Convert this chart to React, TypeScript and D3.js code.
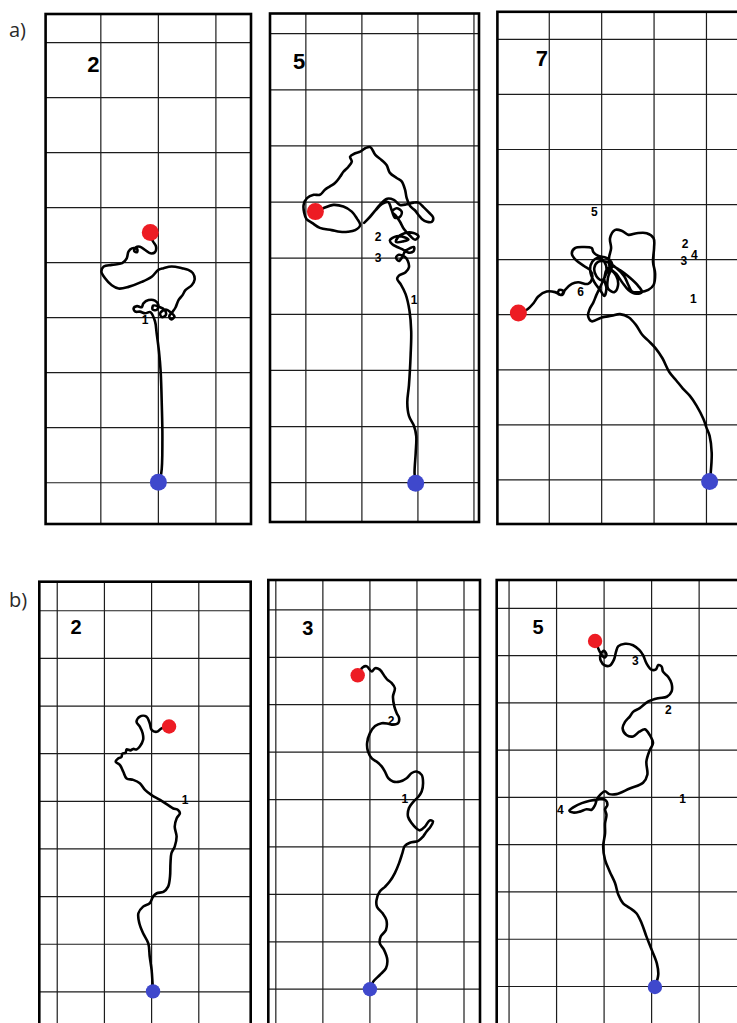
import React from 'react';
import * as d3 from 'd3';

type Pt = [number, number];
type Lbl = { t: string; x: number; y: number };

// Trajectories in grid-cell units (x right, y up), from start (blue) to end (red)
const trackA1: Pt[] = [
  [0.00,0.01],[0.05,0.17],[0.07,0.79],[0.06,1.40],[0.04,2.02],[0.01,2.39],[-0.03,2.72],[-0.06,2.94],
  [-0.14,3.10],[-0.23,3.08],[-0.32,3.11],[-0.40,3.11],[-0.43,3.17],[-0.37,3.21],[-0.29,3.19],[-0.26,3.26],
  [-0.17,3.32],[-0.06,3.31],[0.00,3.23],[-0.03,3.14],[-0.10,3.15],[-0.09,3.22],[0.01,3.20],[0.11,3.14],
  [0.13,3.05],[0.06,3.01],[0.03,3.08],[0.13,3.15],[0.22,3.09],[0.28,3.02],[0.22,2.97],[0.19,3.03],
  [0.25,3.11],[0.30,3.19],[0.35,3.32],[0.42,3.41],[0.47,3.50],[0.58,3.59],[0.63,3.69],[0.60,3.81],
  [0.52,3.87],[0.41,3.90],[0.23,3.93],[0.09,3.90],[0.00,3.87],[-0.11,3.75],[-0.29,3.65],[-0.52,3.56],
  [-0.69,3.53],[-0.81,3.59],[-0.93,3.72],[-0.99,3.84],[-0.95,3.93],[-0.81,3.96],[-0.63,3.99],[-0.55,4.08],
  [-0.52,4.20],[-0.46,4.26],[-0.37,4.25],[-0.37,4.19],[-0.42,4.21],[-0.39,4.28],[-0.32,4.29],[-0.23,4.23],
  [-0.14,4.17],[-0.06,4.19],[-0.04,4.29],[-0.09,4.38],[-0.13,4.47],[-0.14,4.55],
];

const trackA2: Pt[] = [
  [-0.04,-0.01],[-0.06,0.17],[-0.04,0.53],[-0.03,0.83],[-0.07,1.01],[-0.16,1.19],[-0.19,1.43],[-0.16,1.74],
  [-0.13,2.28],[-0.12,2.70],[-0.15,3.06],[-0.22,3.36],[-0.31,3.54],[-0.37,3.63],[-0.34,3.69],[-0.22,3.75],
  [-0.16,3.84],[-0.18,3.95],[-0.23,4.02],[-0.34,4.06],[-0.39,4.01],[-0.34,3.95],[-0.28,4.02],[-0.23,4.12],
  [-0.14,4.18],[-0.07,4.20],[-0.08,4.12],[-0.17,4.10],[-0.26,4.15],[-0.37,4.20],[-0.46,4.25],[-0.50,4.32],
  [-0.38,4.39],[-0.23,4.37],[-0.17,4.33],[-0.26,4.30],[-0.39,4.29],[-0.35,4.38],[-0.23,4.45],[-0.08,4.45],
  [0.01,4.39],[-0.05,4.33],[-0.14,4.40],[-0.25,4.52],[-0.32,4.65],[-0.39,4.75],[-0.46,4.83],[-0.38,4.89],
  [-0.29,4.83],[-0.32,4.74],[-0.41,4.72],[-0.47,4.86],[-0.53,5.00],[-0.64,4.97],[-0.75,4.86],[-0.85,4.74],
  [-0.96,4.63],[-0.89,4.70],[-0.78,4.83],[-0.68,4.95],[-0.55,5.06],[-0.43,5.04],[-0.32,4.95],[-0.20,4.96],
  [-0.08,4.99],[0.01,4.99],[0.10,4.91],[0.19,4.82],[0.27,4.73],[0.25,4.65],[0.16,4.65],[0.07,4.70],
  [0.01,4.77],[-0.05,4.85],[-0.14,4.93],[-0.20,5.07],[-0.23,5.22],[-0.29,5.37],[-0.38,5.43],[-0.50,5.52],
  [-0.56,5.66],[-0.65,5.75],[-0.76,5.84],[-0.85,5.98],[-0.94,5.96],[-1.03,5.90],[-1.12,5.87],[-1.21,5.81],
  [-1.18,5.72],[-1.24,5.63],[-1.33,5.54],[-1.39,5.45],[-1.48,5.34],[-1.57,5.28],[-1.66,5.22],[-1.75,5.13],
  [-1.86,5.13],[-1.98,5.07],[-2.04,4.95],[-2.03,4.81],[-1.99,4.70],[-1.89,4.63],[-1.75,4.54],[-1.54,4.50],
  [-1.39,4.47],[-1.25,4.47],[-1.12,4.50],[-1.03,4.59],[-1.09,4.71],[-1.18,4.83],[-1.33,4.92],[-1.51,4.95],
  [-1.69,4.89],[-1.83,4.83],
];

const trackA3: Pt[] = [
  [0.06,-0.03],[0.08,0.12],[0.10,0.49],[0.06,0.80],[0.00,0.95],[-0.06,1.11],[-0.19,1.35],[-0.32,1.53],
  [-0.45,1.66],[-0.58,1.81],[-0.71,1.96],[-0.84,2.21],[-0.97,2.39],[-1.10,2.52],[-1.23,2.64],[-1.35,2.82],
  [-1.48,2.95],[-1.65,3.01],[-1.81,2.98],[-2.00,2.95],[-2.19,2.88],[-2.26,2.98],[-2.23,3.10],[-2.16,3.22],
  [-2.10,3.36],[-2.03,3.50],[-1.95,3.67],[-1.91,3.81],[-1.80,3.88],[-1.65,3.81],[-1.46,3.67],[-1.30,3.52],
  [-1.23,3.41],[-1.34,3.38],[-1.49,3.45],[-1.61,3.59],[-1.72,3.74],[-1.84,3.85],[-1.86,4.03],[-1.82,4.21],
  [-1.84,4.39],[-1.74,4.54],[-1.61,4.52],[-1.49,4.45],[-1.33,4.48],[-1.14,4.48],[-1.01,4.39],[-1.00,4.21],
  [-1.02,3.96],[-0.98,3.75],[-1.01,3.54],[-1.11,3.45],[-1.27,3.41],[-1.42,3.42],[-1.49,3.54],[-1.57,3.70],
  [-1.72,3.85],[-1.91,3.96],[-2.07,3.96],[-2.14,3.85],[-2.10,3.70],[-1.99,3.63],[-1.91,3.77],[-1.95,3.96],
  [-2.07,4.03],[-2.18,3.96],[-2.22,3.81],[-2.14,3.59],[-2.03,3.45],[-1.95,3.34],[-1.91,3.48],[-1.95,3.67],
  [-1.84,3.81],[-1.72,3.70],[-1.69,3.52],[-1.76,3.41],[-1.88,3.48],[-1.88,3.67],[-1.80,3.92],[-1.91,4.03],
  [-2.07,4.07],[-2.16,4.14],[-2.19,4.21],[-2.35,4.23],[-2.51,4.21],[-2.57,4.11],[-2.49,3.99],[-2.33,3.88],
  [-2.22,3.81],[-2.18,3.67],[-2.26,3.56],[-2.45,3.59],[-2.57,3.56],[-2.70,3.45],[-2.75,3.36],[-2.83,3.38],
  [-2.81,3.45],[-2.73,3.43],[-2.77,3.36],[-2.89,3.41],[-3.05,3.42],[-3.21,3.33],[-3.30,3.21],[-3.43,3.09],
  [-3.59,3.03],
];

const trackB1: Pt[] = [
  [0.03,0.01],[0.02,0.18],[0.00,0.46],[-0.04,0.74],[-0.07,1.02],[-0.18,1.23],[-0.26,1.44],[-0.28,1.65],
  [-0.18,1.79],[-0.04,1.86],[0.03,2.00],[0.11,2.07],[0.25,2.10],[0.35,2.21],[0.39,2.42],[0.40,2.70],
  [0.42,2.91],[0.49,3.05],[0.53,3.26],[0.49,3.47],[0.53,3.64],[0.60,3.75],[0.56,3.82],[0.46,3.85],
  [0.35,3.92],[0.18,4.03],[0.00,4.13],[-0.14,4.24],[-0.25,4.38],[-0.39,4.45],[-0.53,4.48],[-0.60,4.62],
  [-0.67,4.76],[-0.76,4.83],[-0.71,4.90],[-0.64,4.93],[-0.62,5.00],[-0.55,5.02],[-0.53,5.09],[-0.45,5.07],
  [-0.39,5.10],[-0.32,5.09],[-0.25,5.15],[-0.18,5.29],[-0.19,5.43],[-0.25,5.57],[-0.32,5.67],[-0.25,5.78],
  [-0.11,5.78],[-0.04,5.64],[0.00,5.50],[0.11,5.46],[0.21,5.53],[0.37,5.57],
];

const trackB2: Pt[] = [
  [0.00,0.00],[0.07,0.16],[0.21,0.30],[0.34,0.44],[0.37,0.62],[0.30,0.83],[0.21,0.97],[0.23,1.11],
  [0.34,1.25],[0.35,1.46],[0.27,1.60],[0.15,1.74],[0.14,1.88],[0.21,2.06],[0.32,2.16],[0.42,2.27],
  [0.53,2.45],[0.62,2.66],[0.69,2.87],[0.74,3.02],[0.85,3.09],[1.03,3.13],[1.13,3.22],[1.20,3.32],
  [1.29,3.43],[1.34,3.54],[1.27,3.56],[1.17,3.43],[1.06,3.35],[0.98,3.40],[0.89,3.50],[0.81,3.64],
  [0.83,3.82],[0.93,3.96],[1.03,4.06],[1.10,4.17],[1.13,4.35],[1.10,4.52],[0.99,4.59],[0.89,4.56],
  [0.78,4.45],[0.64,4.38],[0.49,4.38],[0.39,4.45],[0.32,4.59],[0.25,4.70],[0.14,4.80],[0.04,4.87],
  [-0.04,5.01],[-0.06,5.19],[0.00,5.40],[0.11,5.55],[0.25,5.61],[0.39,5.60],[0.49,5.58],[0.60,5.61],
  [0.62,5.72],[0.57,5.82],[0.52,5.96],[0.49,6.17],[0.53,6.35],[0.46,6.46],[0.37,6.53],[0.32,6.59],
  [0.21,6.74],[0.11,6.77],[0.04,6.70],[-0.07,6.81],[-0.15,6.79],[-0.26,6.62],
];

const trackB3: Pt[] = [
  [0.07,-0.01],[0.14,0.25],[0.11,0.49],[0.00,0.78],[-0.11,1.06],[-0.21,1.34],[-0.32,1.55],[-0.46,1.66],
  [-0.60,1.76],[-0.70,1.94],[-0.77,2.19],[-0.88,2.43],[-0.98,2.68],[-1.02,2.96],[-0.98,3.24],[-0.98,3.45],
  [-0.95,3.63],[-0.98,3.75],[-0.93,3.84],[-0.98,3.95],[-1.12,3.96],[-1.30,3.93],[-1.47,3.88],[-1.65,3.79],
  [-1.73,3.72],[-1.65,3.68],[-1.51,3.70],[-1.37,3.75],[-1.26,3.74],[-1.19,3.84],[-1.15,3.96],[-1.07,4.07],
  [-0.98,4.13],[-0.89,4.07],[-0.74,4.07],[-0.46,4.19],[-0.18,4.31],[-0.09,4.48],[-0.11,4.76],[-0.04,5.00],
  [0.03,5.15],[-0.04,5.32],[-0.14,5.44],[-0.26,5.39],[-0.39,5.29],[-0.53,5.32],[-0.61,5.46],[-0.56,5.60],
  [-0.46,5.71],[-0.39,5.81],[-0.25,5.89],[-0.07,6.03],[0.14,6.10],[0.32,6.13],[0.42,6.24],[0.42,6.41],
  [0.35,6.55],[0.24,6.66],[0.21,6.77],[0.14,6.80],[0.09,6.71],[0.00,6.70],[-0.11,6.84],[-0.18,7.01],
  [-0.26,7.12],[-0.39,7.22],[-0.56,7.25],[-0.70,7.20],[-0.75,7.08],[-0.79,6.92],[-0.88,6.79],[-0.98,6.79],
  [-1.07,6.89],[-1.07,7.03],[-1.00,7.10],[-0.95,7.01],[-1.00,6.96],[-1.09,7.08],[-1.15,7.22],[-1.19,7.31],
];

// Numbered marks along the tracks
const labelsA1: Lbl[] = [{ t: '1', x: -0.23, y: 2.96 }];
const labelsA2: Lbl[] = [
  { t: '1', x: -0.07, y: 3.25 }, { t: '2', x: -0.71, y: 4.37 }, { t: '3', x: -0.71, y: 4.0 },
];
const labelsA3: Lbl[] = [
  { t: '5', x: -2.14, y: 4.86 }, { t: '2', x: -0.41, y: 4.29 }, { t: '3', x: -0.43, y: 3.98 },
  { t: '4', x: -0.23, y: 4.09 }, { t: '1', x: -0.25, y: 3.29 }, { t: '6', x: -2.40, y: 3.41 },
];
const labelsB1: Lbl[] = [{ t: '1', x: 0.71, y: 4.03 }];
const labelsB2: Lbl[] = [{ t: '2', x: 0.45, y: 5.65 }, { t: '1', x: 0.74, y: 4.01 }];
const labelsB3: Lbl[] = [
  { t: '4', x: -1.92, y: 3.74 }, { t: '1', x: 0.65, y: 3.96 }, { t: '2', x: 0.35, y: 5.84 }, { t: '3', x: -0.34, y: 6.89 },
];

// Panel numbers and their positions (grid units)
const panelNumbers = ['2', '5', '7', '2', '3', '5'];
const panelNumberPos: Pt[] = [[-1.13, 7.61], [-2.12, 7.5], [-3.14, 7.66], [-1.6, 7.66], [-1.32, 7.62], [-2.39, 7.6]];

// Grid lines (grid units)
const gridRows = [0, 1, 2, 3, 4, 5, 6, 7, 8];
const gridColsA1 = [-1, 0, 1];
const gridColsA2 = [-2, -1, 0, 1];
const gridColsA3 = [-3, -2, -1, 0];
const gridColsB1 = [-2, -1, 0, 1];
const gridColsB2 = [-2, -1, 0, 1, 2];
const gridColsB3 = [-3, -2, -1, 0, 1];

type Panel = {
  id: string;
  frame: { x0: number; y0: number; x1: number; y1: number };
  xDomain: [number, number];
  yDomain: [number, number];
  cols: number[];
  track: Pt[];
  labels: Lbl[];
  num: string;
  numPos: Pt;
  dotR: number;
};

const panels: Panel[] = [
  { id: 'a1', frame: { x0: 45.6, y0: 14, x1: 251, y1: 524 }, xDomain: [-1.96, 1.61], yDomain: [-0.75, 8.52], cols: gridColsA1, track: trackA1, labels: labelsA1, num: panelNumbers[0], numPos: panelNumberPos[0], dotR: 8.5 },
  { id: 'a2', frame: { x0: 270, y0: 13.5, x1: 479, y1: 522 }, xDomain: [-2.64, 1.09], yDomain: [-0.70, 8.36], cols: gridColsA2, track: trackA2, labels: labelsA2, num: panelNumbers[1], numPos: panelNumberPos[1], dotR: 8.5 },
  { id: 'a3', frame: { x0: 497.4, y0: 11.8, x1: 740, y1: 524 }, xDomain: [-3.99, 0.64], yDomain: [-0.80, 8.50], cols: gridColsA3, track: trackA3, labels: labelsA3, num: panelNumbers[2], numPos: panelNumberPos[2], dotR: 8.5 },
  { id: 'b1', frame: { x0: 39.3, y0: 581.7, x1: 250.7, y1: 1030 }, xDomain: [-2.38, 2.10], yDomain: [-0.80, 8.61], cols: gridColsB1, track: trackB1, labels: labelsB1, num: panelNumbers[3], numPos: panelNumberPos[3], dotR: 7.2 },
  { id: 'b2', frame: { x0: 268.3, y0: 580, x1: 480, y1: 1030 }, xDomain: [-2.16, 2.34], yDomain: [-0.86, 8.63], cols: gridColsB2, track: trackB2, labels: labelsB2, num: panelNumbers[4], numPos: panelNumberPos[4], dotR: 7.2 },
  { id: 'b3', frame: { x0: 496.7, y0: 580, x1: 740, y1: 1030 }, xDomain: [-3.26, 1.86], yDomain: [-0.92, 8.60], cols: gridColsB3, track: trackB3, labels: labelsB3, num: panelNumbers[5], numPos: panelNumberPos[5], dotR: 7.2 },
];

const RED = '#ED1C24';
const BLUE = '#3F48CC';
const FONT = "'Liberation Sans', Arial, sans-serif";

function PanelView({ p }: { p: Panel }) {
  const { x0, y0, x1, y1 } = p.frame;
  const xs = d3.scaleLinear().domain(p.xDomain).range([x0, x1]);
  const ys = d3.scaleLinear().domain(p.yDomain).range([y1, y0]);
  const line = d3
    .line<Pt>()
    .x((d) => xs(d[0]))
    .y((d) => ys(d[1]))
    .curve(d3.curveCatmullRom.alpha(0.5));
  const start = p.track[0];
  const end = p.track[p.track.length - 1];
  const clipId = `clip-${p.id}`;
  const small = p.id.startsWith('b');
  return (
    <g>
      <defs>
        <clipPath id={clipId}>
          <rect x={x0} y={y0} width={x1 - x0} height={y1 - y0} />
        </clipPath>
      </defs>
      <g clipPath={`url(#${clipId})`}>
        {p.cols.map((v) => (
          <line key={`c${v}`} x1={xs(v)} x2={xs(v)} y1={y0} y2={y1} stroke="#1c1c1c" strokeWidth={1.2} />
        ))}
        {gridRows.map((v) => (
          <line key={`r${v}`} x1={x0} x2={x1} y1={ys(v)} y2={ys(v)} stroke="#1c1c1c" strokeWidth={1.2} />
        ))}
        <path d={line(p.track) || ''} fill="none" stroke="#000" strokeWidth={2.6} strokeLinejoin="round" strokeLinecap="round" />
        {p.labels.map((l, i) => (
          <text key={i} x={xs(l.x)} y={ys(l.y)} fontFamily={FONT} fontWeight="bold" fontSize={12}
            textAnchor="middle" dominantBaseline="central" fill="#000">{l.t}</text>
        ))}
        <circle cx={xs(start[0])} cy={ys(start[1])} r={p.dotR} fill={BLUE} />
        <circle cx={xs(end[0])} cy={ys(end[1])} r={p.dotR} fill={RED} />
      </g>
      <rect x={x0} y={y0} width={x1 - x0} height={y1 - y0} fill="none" stroke="#000" strokeWidth={2.6} />
      <text x={xs(p.numPos[0])} y={ys(p.numPos[1])} fontFamily={FONT} fontWeight="bold" fontSize={small ? 20 : 22}
        textAnchor="middle" dominantBaseline="central" fill="#000">{p.num}</text>
    </g>
  );
}

export default function App() {
  return (
    <div style={{ position: 'absolute', left: 0, top: 0, width: 737, height: 1023, overflow: 'hidden', background: '#fff' }}>
      <svg width={737} height={1023} viewBox="0 0 737 1023" style={{ display: 'block' }}>
        <rect width={737} height={1023} fill="#fff" />
        {panels.map((p) => (
          <PanelView key={p.id} p={p} />
        ))}
        <text x={9} y={37} fontFamily="'Open Sans', sans-serif" fontSize={20} fill="#2a2a2a">a)</text>
        <text x={9} y={607} fontFamily="'Open Sans', sans-serif" fontSize={20} fill="#2a2a2a">b)</text>
      </svg>
    </div>
  );
}
